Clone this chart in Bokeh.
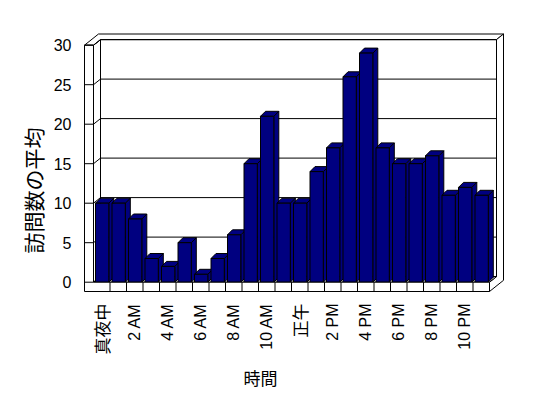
import math
from bokeh.plotting import figure
from bokeh.models import Range1d
from bokeh.core.properties import value
from bokeh.embed import file_html
from bokeh.resources import INLINE

# ---- data ----
hours = list(range(24))
visits = [10, 10, 8, 3, 2, 5, 1, 3, 6, 15, 21, 10, 10, 14, 17, 26, 29, 17, 15, 15, 16, 11, 12, 11]
tick_positions = [0, 2, 4, 6, 8, 10, 12, 14, 16, 18, 20, 22]
tick_labels = ["真夜中", "2 AM", "4 AM", "6 AM", "8 AM", "10 AM", "正午", "2 PM", "4 PM", "6 PM", "8 PM", "10 PM"]
y_ticks = [0, 5, 10, 15, 20, 25, 30]
y_title = "訪問数の平均"
x_title = "時間"

# ---- layout (pixel-based styling constants) ----
W, H = 548, 398
X0PX = 93.0     # pixel of category 0 left edge
CATPX = 16.5    # pixels per category
Y0PX = 281.7    # pixel of value 0 (front)
VPX = 7.9       # pixels per value unit

def dx(px):
    return px / CATPX

def dy(px):
    return px / VPX

ncat = len(hours)
ymax = max(y_ticks)
DX, DY = dx(7.0), dy(5.6)        # wall depth step
BDX, BDY = dx(5.0), dy(5.0)      # bar depth
LW = dx(9.0)                     # left wall thickness
FT = dy(9.3)                     # floor thickness
BL, BW = dx(2.0), dx(13.3)       # bar offset and width

p = figure(width=W, height=H, output_backend="svg", toolbar_location=None,
           x_range=Range1d(-X0PX / CATPX, (W - X0PX) / CATPX),
           y_range=Range1d(-(H - Y0PX) / VPX, Y0PX / VPX),
           min_border=0)
p.axis.visible = False
p.grid.visible = False
p.outline_line_color = None
p.background_fill_color = "white"
p.border_fill_color = "white"

def poly(pts):
    return [q[0] for q in pts], [q[1] for q in pts]

# walls (behind)
back_face = [(DX, DY), (ncat + DX, DY), (ncat + DX, ymax + DY), (DX, ymax + DY)]
left_inner = [(0, ymax), (DX, ymax + DY), (DX, DY), (0, 0)]
top_wall = [(-LW, ymax), (0, ymax), (DX, ymax + DY), (ncat + DX, ymax + DY),
            (ncat + 2 * DX, ymax + 2 * DY), (-LW + 2 * DX, ymax + 2 * DY)]
right_side = [(ncat + DX, ymax + DY), (ncat + 2 * DX, ymax + 2 * DY),
              (ncat + 2 * DX, 2 * DY - FT), (ncat, -FT), (ncat, 0), (ncat + DX, DY)]
floor_top = [(0, 0), (ncat, 0), (ncat + DX, DY), (DX, DY)]

wxs, wys = [], []
for pg in [back_face, left_inner, top_wall, right_side, floor_top]:
    a, b = poly(pg)
    wxs.append(a)
    wys.append(b)
p.patches(wxs, wys, fill_color="white", line_color="black", line_width=1)

# gridlines on back wall, left wall
gx, gy = [], []
for v in y_ticks:
    gx.append([DX, ncat + DX]); gy.append([v + DY, v + DY])
    gx.append([0, DX]); gy.append([v, v + DY])
p.multi_line(gx, gy, line_color="black", line_width=1)

# bars
bxs, bys = [], []
for i, v in zip(hours, visits):
    x0 = i + BL
    x1 = x0 + BW
    side = [(x1, 0), (x1 + BDX, BDY), (x1 + BDX, v + BDY), (x1, v)]
    top = [(x0, v), (x1, v), (x1 + BDX, v + BDY), (x0 + BDX, v + BDY)]
    front = [(x0, 0), (x1, 0), (x1, v), (x0, v)]
    for pg in (side, top, front):
        a, b = poly(pg)
        bxs.append(a)
        bys.append(b)
p.patches(bxs, bys, fill_color="#000080", line_color="black", line_width=1)

# front of left wall + floor
front_L = [(-LW, ymax), (0, ymax), (0, 0), (ncat, 0), (ncat, -FT), (-LW, -FT)]
a, b = poly(front_L)
p.patch(a, b, fill_color="white", line_color="black", line_width=1)

# ticks on left wall front, dividers on floor front
tx, ty = [], []
for v in y_ticks:
    tx.append([-LW, 0]); ty.append([v, v])
for k in range(1, ncat):
    tx.append([k, k]); ty.append([0, -FT])
p.multi_line(tx, ty, line_color="black", line_width=1)

# y tick labels
p.text(x=[dx(71 - X0PX)] * len(y_ticks), y=y_ticks, text=[str(v) for v in y_ticks],
       text_align="right", text_baseline="middle",
       text_font=value("Liberation Sans"), text_font_size="16px", text_color="black")

# x tick labels (rotated)
lab_y = -dy(303 - Y0PX)
cjk_x = [t + 0.5 for t, s in zip(tick_positions, tick_labels) if not s.isascii()]
cjk_t = [s for s in tick_labels if not s.isascii()]
lat_x = [t + 0.5 for t, s in zip(tick_positions, tick_labels) if s.isascii()]
lat_t = [s for s in tick_labels if s.isascii()]
p.text(x=cjk_x, y=[lab_y] * len(cjk_x), text=cjk_t, angle=math.pi / 2,
       text_align="right", text_baseline="middle",
       text_font=value("Noto Sans CJK JP"), text_font_size="17px", text_color="black")
p.text(x=lat_x, y=[lab_y] * len(lat_x), text=lat_t, angle=math.pi / 2,
       text_align="right", text_baseline="middle",
       text_font=value("Liberation Sans"), text_font_size="16px", text_color="black")

# axis titles
p.text(x=[dx(32 - X0PX)], y=[(Y0PX - 190) / VPX], text=[y_title], angle=math.pi / 2,
       text_align="center", text_baseline="middle",
       text_font=value("Noto Sans CJK JP"), text_font_size="21px", text_color="black")
p.text(x=[dx(260 - X0PX)], y=[(Y0PX - 377) / VPX], text=[x_title],
       text_align="center", text_baseline="middle",
       text_font=value("Noto Sans CJK JP"), text_font_size="17px", text_color="black")

open("out.html", "w").write(file_html(p, INLINE))
